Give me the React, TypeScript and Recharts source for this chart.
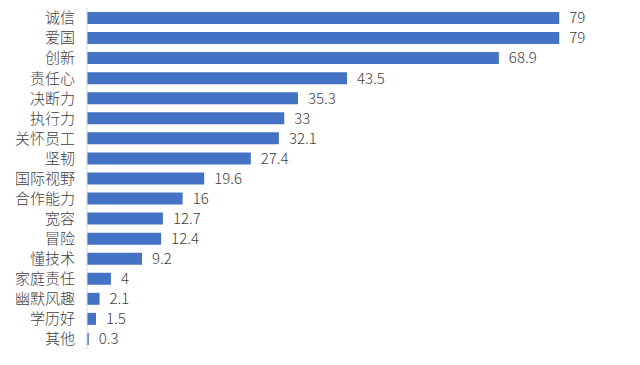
import React from 'react';
import { BarChart, Bar, XAxis, YAxis, LabelList } from 'recharts';

const categories = ['诚信', '爱国', '创新', '责任心', '决断力', '执行力', '关怀员工', '坚韧', '国际视野', '合作能力', '宽容', '冒险', '懂技术', '家庭责任', '幽默风趣', '学历好', '其他'];
const values = [79, 79, 68.9, 43.5, 35.3, 33, 32.1, 27.4, 19.6, 16, 12.7, 12.4, 9.2, 4, 2.1, 1.5, 0.3];

const data = categories.map((name, i) => ({ name, value: values[i] }));

const font = '"Noto Sans CJK SC", "Noto Sans", sans-serif';

export default function App() {
  return (
    <div style={{ position: 'fixed', left: 0, top: 0, width: 640, height: 365, background: '#fff' }}>
      <BarChart
        width={640}
        height={365}
        data={data}
        layout="vertical"
        margin={{ top: 8, right: 15, bottom: 16, left: 0 }}
      >
        <XAxis type="number" domain={[0, 90]} hide />
        <YAxis
          type="category"
          dataKey="name"
          width={87}
          tickLine={false}
          axisLine={{ stroke: '#d9d9d9' }}
          tickMargin={6}
          interval={0}
          tick={{ fill: '#404040', fontSize: 15, fontFamily: font, fontWeight: 300 }}
        />
        <Bar dataKey="value" fill="#4472C4" barSize={12} isAnimationActive={false}>
          <LabelList
            dataKey="value"
            position="right"
            offset={10}
            style={{ fill: '#404040', fontSize: 15, fontFamily: font, fontWeight: 300 }}
          />
        </Bar>
      </BarChart>
    </div>
  );
}
